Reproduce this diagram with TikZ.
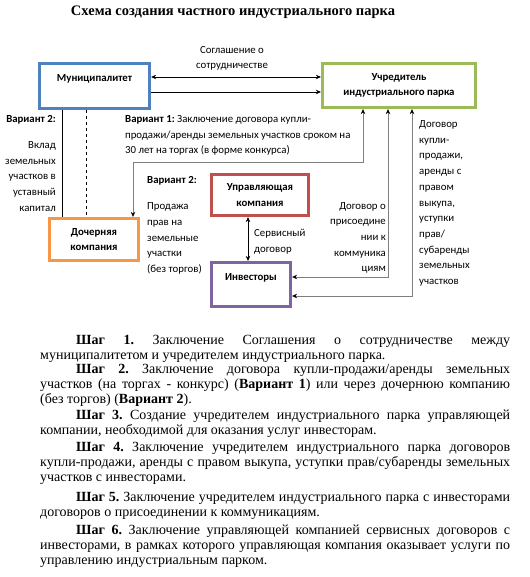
\documentclass[tikz,border=0pt]{standalone}
\usepackage{fontspec}
\setmainfont{Liberation Serif}
\newfontfamily\calibri{Carlito}
\usetikzlibrary{positioning, arrows.meta, calc}
\frenchspacing

\definecolor{muniblue}{HTML}{4F81BD}
\definecolor{foundgreen}{HTML}{9BBB59}
\definecolor{daughterorange}{HTML}{F79646}
\definecolor{mgmtred}{HTML}{C0504D}
\definecolor{investpurple}{HTML}{8064A2}
\definecolor{linegrey}{HTML}{7F7F7F}

\begin{document}
\begin{tikzpicture}[
    x=1pt, y=-1pt,
    box/.style={draw, rectangle, line width=3.2pt, align=center, inner sep=0pt, font=\calibri\bfseries\fontsize{10.8}{15.7}\selectfont},
    lbl/.style={inner sep=0pt, font=\calibri\fontsize{10.8}{15.7}\selectfont},
    shagpar/.style={anchor=base west, inner sep=0pt, text width=470pt, align=justify, font=\fontsize{14}{15.2}\selectfont},
    arrow/.style={->, >={Stealth[length=5pt,width=4.5pt]}, line width=0.8pt},
    greyarrow/.style={<->, >={Stealth[length=5pt,width=4.5pt,color=black]}, line width=1pt, draw=linegrey}
]
\useasboundingbox (0,0) rectangle (529,577);

\node[font=\bfseries\fontsize{14.5}{17}\selectfont] (title) at (233,12) {Схема создания частного индустриального парка};

\node[box, draw=muniblue, minimum width=110, minimum height=45] (muni) at (94.5,86) {Муниципалитет\\\mbox{}};
\node[box, draw=foundgreen, minimum width=153, minimum height=44] (founder) at (399,85.5) {Учредитель\\индустриального парка};
\node[box, draw=daughterorange, minimum width=89, minimum height=42] (daughter) at (94,239.5) {Дочерняя\\компания};
\node[box, draw=mgmtred, minimum width=97, minimum height=41] (mgmt) at (260,195) {Управляющая\\компания};
\node[box, draw=investpurple, minimum width=79, minimum height=44] (investors) at (251,284.5) {Инвесторы\\\mbox{}};

\node[lbl, align=center] (agree) at (232,58.5) {Соглашение о\\сотрудничестве};
\node[lbl, align=right, anchor=east] (var2contrib) at (56,163.5) {\textbf{Вариант 2:}\\[10pt]Вклад\\земельных\\участков в\\уставный\\капитал};
\node[lbl, align=left, anchor=west] (var1) at (125,135.5) {\textbf{Вариант 1:} Заключение договора купли-\\продажи/аренды земельных участков сроком на\\30 лет на торгах (в форме конкурса)};
\node[lbl, align=left, anchor=west] (var2sale) at (147,225.5) {\textbf{Вариант 2:}\\[10pt]Продажа\\прав на\\земельные\\участки\\(без торгов)};
\node[lbl, align=left, anchor=west] (service) at (254,242) {Сервисный\\договор};
\node[lbl, align=right, anchor=east] (join) at (386,238) {Договор о\\присоедине\\нии к\\коммуника\\циям};
\node[lbl, align=left, anchor=west] (sale) at (419,203.5) {Договор\\купли-\\продажи,\\аренды с\\правом\\выкупа,\\уступки\\прав/\\субаренды\\земельных\\участков};

\coordinate (v1corner) at (133,163);

\draw [arrow, <->] ([yshift=9pt]muni.east) -- ([yshift=9pt]muni.east -| founder.west);
\draw [arrow] ([yshift=-6pt]muni.east) -- ([yshift=-6pt]muni.east -| founder.west);
\draw [line width=0.8pt] ([xshift=-32.5pt]muni.south) -- ([xshift=-32.5pt]muni.south |- daughter.north);
\draw [line width=0.8pt, dashed] ([xshift=-8.5pt]muni.south) -- ([xshift=-8.5pt]muni.south |- daughter.north);
\draw [greyarrow] ([xshift=-36pt]founder.south) |- (v1corner) -- (v1corner |- daughter.north);
\draw [greyarrow] ([xshift=-11pt]founder.south) |- ([yshift=7.5pt]investors.east);
\draw [greyarrow] ([xshift=13pt]founder.south) |- ([yshift=-11.5pt]investors.east);
\draw [arrow, <->] ([xshift=-12pt]mgmt.south) -- ([xshift=-12pt]mgmt.south |- investors.north);

\node[shagpar] (shag1) at (40,344.5) {\hspace*{36pt}\textbf{Шаг 1.} Заключение Соглашения о сотрудничестве между\linebreak муниципалитетом и учредителем индустриального парка.};
\node[shagpar] (shag2) at (40,373.5) {\hspace*{36pt}\textbf{Шаг 2.} Заключение договора купли-продажи/аренды земельных\linebreak участков (на торгах - конкурс) (\textbf{Вариант 1}) или через дочернюю компанию\linebreak (без торгов) (\textbf{Вариант 2}).};
\node[shagpar] (shag3) at (40,419.5) {\hspace*{36pt}\textbf{Шаг 3.} Создание учредителем индустриального парка управляющей\linebreak компании, необходимой для оказания услуг инвесторам.};
\node[shagpar] (shag4) at (40,451) {\hspace*{36pt}\textbf{Шаг 4.} Заключение учредителем индустриального парка договоров\linebreak купли-продажи, аренды с правом выкупа, уступки прав/субаренды земельных\linebreak участков с инвесторами.};
\node[shagpar] (shag5) at (40,501) {\hspace*{36pt}\textbf{Шаг 5.} Заключение учредителем индустриального парка с инвесторами\linebreak договоров о присоединении к коммуникациям.};
\node[shagpar] (shag6) at (40,534.5) {\hspace*{36pt}\textbf{Шаг 6.} Заключение управляющей компанией сервисных договоров с\linebreak инвесторами, в рамках которого управляющая компания оказывает услуги по\linebreak управлению индустриальным парком.};
\end{tikzpicture}
\end{document}
